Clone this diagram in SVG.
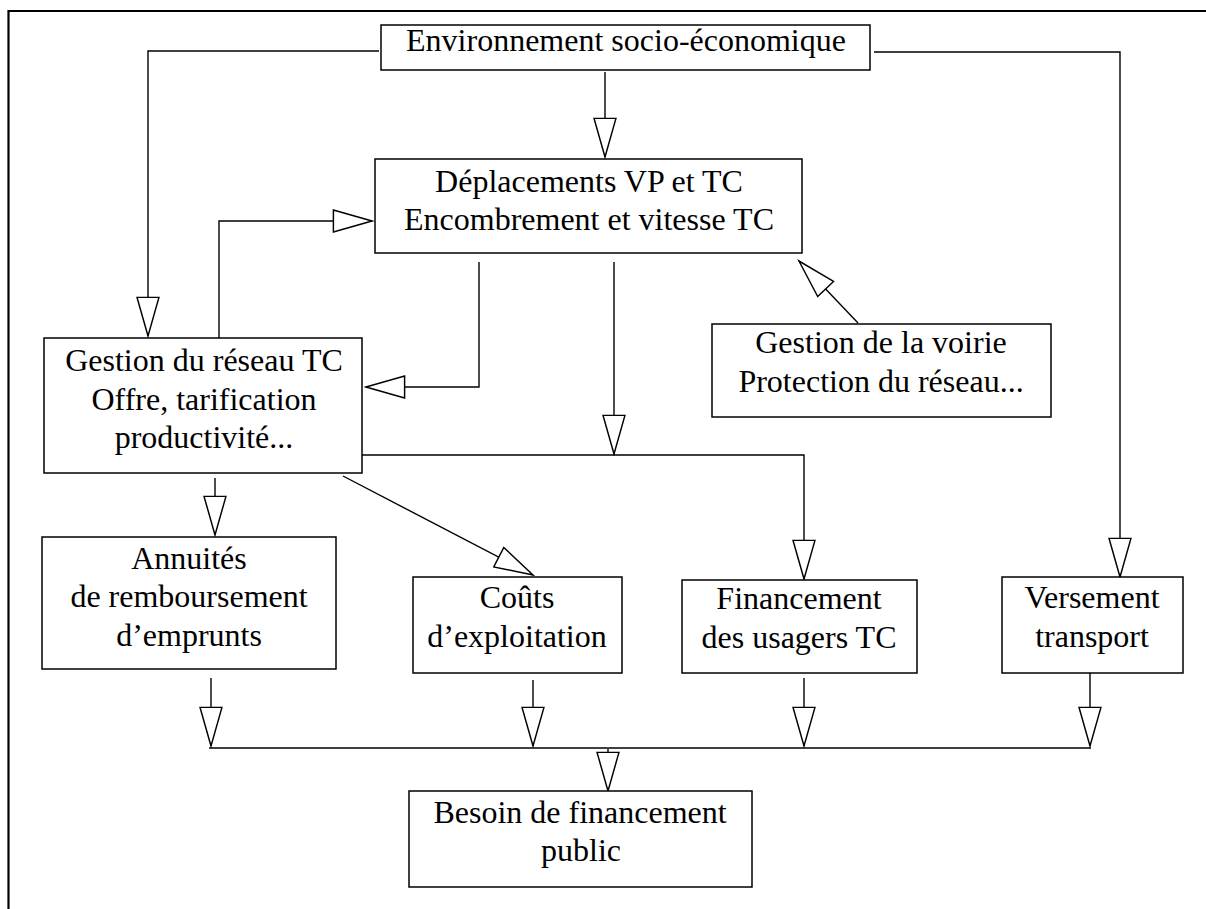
<svg xmlns="http://www.w3.org/2000/svg" width="1206" height="909" viewBox="0 0 1206 909">
  <style>
    .box { fill: #fff; stroke: #000; stroke-width: 1.5; }
    .lbl { font-family: "Liberation Serif", "Times New Roman", serif; font-size: 32px; fill: #000; text-anchor: middle; }
    .conn { fill: none; stroke: #000; stroke-width: 1.4; marker-end: url(#arrow); }
    .line { fill: none; stroke: #000; stroke-width: 1.4; }
  </style>
  <defs>
    <marker id="arrow" markerUnits="userSpaceOnUse" markerWidth="42" markerHeight="24" refX="37" refY="10.5" orient="auto" viewBox="-1 -1 40 23">
      <path d="M0,0 L37,10.5 L0,21 Z" fill="#fff" stroke="#000" stroke-width="1.4" stroke-linejoin="miter"/>
    </marker>
  </defs>
  <rect width="1206" height="909" fill="#fff"/>
  <g id="frame">
    <path d="M8.5,909 V11 H1206" fill="none" stroke="#000" stroke-width="2.2"/>
  </g>
  <g id="connectors">
    <path class="conn" d="M379,51 H148 V336"/>
    <path class="conn" d="M605,72 V157"/>
    <path class="conn" d="M874,52 H1120 V577"/>
    <path class="conn" d="M219,338 V221 H372"/>
    <path class="conn" d="M479,262 V387 H366"/>
    <path class="conn" d="M614,262 V454"/>
    <path class="conn" d="M362,455 H804 V579"/>
    <path class="conn" d="M858,323 L799,261"/>
    <path class="conn" d="M343,476 L533,575"/>
    <path class="conn" d="M215,478 V535"/>
    <path class="conn" d="M211,678 V746"/>
    <path class="conn" d="M533,680 V746"/>
    <path class="conn" d="M804,678 V746"/>
    <path class="conn" d="M1090,673 V746"/>
    <path class="line" d="M209,748 H1091"/>
    <path class="conn" d="M608,749 V791"/>
  </g>
  <g id="env">
    <rect class="box" x="381" y="25" width="489" height="45"/>
    <text class="lbl" x="626" y="51">Environnement socio-économique</text>
  </g>
  <g id="deplacements">
    <rect class="box" x="375" y="159" width="427" height="94"/>
    <text class="lbl" x="589" y="192">Déplacements VP et TC</text>
    <text class="lbl" x="589" y="230">Encombrement et vitesse TC</text>
  </g>
  <g id="gestion-tc">
    <rect class="box" x="44" y="338" width="318" height="135"/>
    <text class="lbl" x="204" y="371">Gestion du réseau TC</text>
    <text class="lbl" x="204" y="410">Offre, tarification</text>
    <text class="lbl" x="204" y="448">productivité...</text>
  </g>
  <g id="gestion-voirie">
    <rect class="box" x="712" y="324" width="339" height="93"/>
    <text class="lbl" x="881" y="353">Gestion de la voirie</text>
    <text class="lbl" x="881" y="392">Protection du réseau...</text>
  </g>
  <g id="annuites">
    <rect class="box" x="42" y="537" width="294" height="132"/>
    <text class="lbl" x="189" y="569">Annuités</text>
    <text class="lbl" x="189" y="607">de remboursement</text>
    <text class="lbl" x="189" y="646">d’emprunts</text>
  </g>
  <g id="couts">
    <rect class="box" x="413" y="577" width="209" height="96"/>
    <text class="lbl" x="517" y="608">Coûts</text>
    <text class="lbl" x="517" y="647">d’exploitation</text>
  </g>
  <g id="financement">
    <rect class="box" x="682" y="580" width="235" height="93"/>
    <text class="lbl" x="799" y="609">Financement</text>
    <text class="lbl" x="799" y="648">des usagers TC</text>
  </g>
  <g id="versement">
    <rect class="box" x="1002" y="577" width="181" height="96"/>
    <text class="lbl" x="1092" y="608">Versement</text>
    <text class="lbl" x="1092" y="647">transport</text>
  </g>
  <g id="besoin">
    <rect class="box" x="409" y="791" width="343" height="96"/>
    <text class="lbl" x="580" y="823">Besoin de financement</text>
    <text class="lbl" x="581" y="861">public</text>
  </g>
</svg>
